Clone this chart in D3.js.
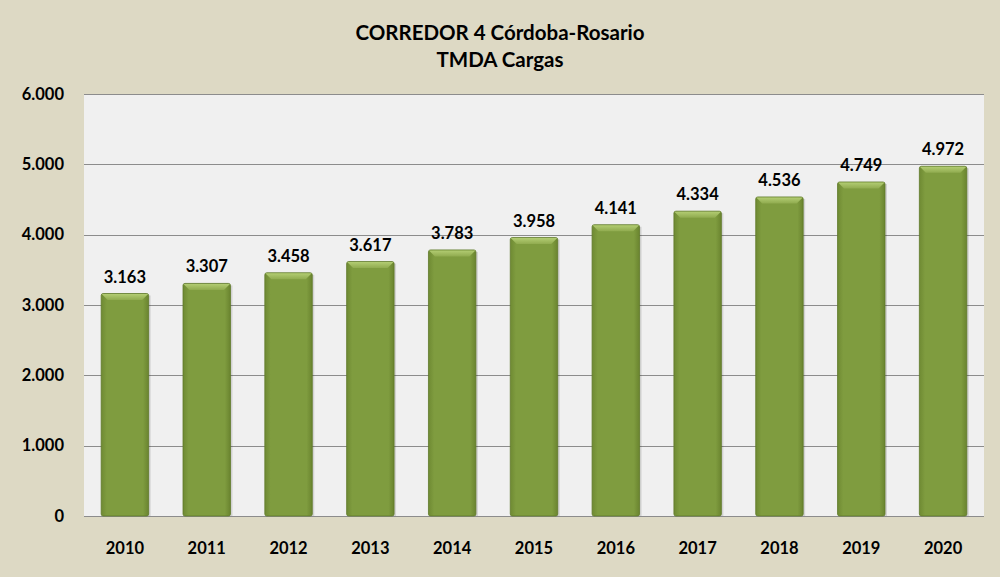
<!DOCTYPE html>
<html>
<head>
<meta charset="utf-8">
<script src="https://cdn.jsdelivr.net/npm/d3@7"></script>
<style>
  body { margin: 0; background: #ddd9c4; }
  text { font-family: Lato, "Open Sans", sans-serif; font-weight: bold; fill: #000; }
</style>
</head>
<body>
<div id="chart"></div>
<script>
// data
var years = ["2010", "2011", "2012", "2013", "2014", "2015", "2016", "2017", "2018", "2019", "2020"]
var tmda = [3163, 3307, 3458, 3617, 3783, 3958, 4141, 4334, 4536, 4749, 4972]
var yTicks = [0, 1000, 2000, 3000, 4000, 5000, 6000]
var titleLines = ["CORREDOR 4 Córdoba-Rosario", "TMDA Cargas"]

var width = 1000
var height = 577
var margin = {top: 94, right: 16, bottom: 61, left: 84}

var locale = d3.formatLocale({decimal: ",", thousands: ".", grouping: [3], currency: ["", ""]})
var fmt = locale.format(",d")

var svg = d3.select("#chart")
  .append("svg")
    .attr("width", width)
    .attr("height", height)

svg.append("rect")
    .attr("width", width)
    .attr("height", height)
    .attr("fill", "#ddd9c4")

var defs = svg.append("defs")
var grad = defs.append("linearGradient")
    .attr("id", "barGrad")
    .attr("x1", "0").attr("x2", "1").attr("y1", "0").attr("y2", "0")
grad.append("stop").attr("offset", "0").attr("stop-color", "#6f8a33")
grad.append("stop").attr("offset", "0.12").attr("stop-color", "#7f9c3f")
grad.append("stop").attr("offset", "0.88").attr("stop-color", "#7f9c3f")
grad.append("stop").attr("offset", "1").attr("stop-color", "#6a842f")

var topGrad = defs.append("linearGradient")
    .attr("id", "topGrad")
    .attr("x1", "0").attr("x2", "0").attr("y1", "0").attr("y2", "1")
topGrad.append("stop").attr("offset", "0").attr("stop-color", "#b2cc72")
topGrad.append("stop").attr("offset", "1").attr("stop-color", "#90ab4f")

var x = d3.scaleBand()
  .domain(years)
  .range([margin.left, width - margin.right])
  .paddingInner(0.42)
  .paddingOuter(0.21)

var y = d3.scaleLinear()
  .domain([0, 6000])
  .range([height - margin.bottom, margin.top])

// plot area
svg.append("rect")
    .attr("x", margin.left)
    .attr("y", margin.top)
    .attr("width", width - margin.left - margin.right)
    .attr("height", y(0) - margin.top)
    .attr("fill", "#f0f0f0")

// gridlines
svg.selectAll("grid")
  .data(yTicks)
  .enter()
  .append("line")
    .attr("x1", margin.left)
    .attr("x2", width - margin.right)
    .attr("y1", function(d){ return Math.round(y(d)) + 0.5 })
    .attr("y2", function(d){ return Math.round(y(d)) + 0.5 })
    .attr("stroke", "#8c8c8c")
    .attr("stroke-width", 1)

// y labels
svg.selectAll("ylab")
  .data(yTicks)
  .enter()
  .append("text")
    .attr("x", 64)
    .attr("y", function(d){ return y(d) })
    .attr("dy", "0.35em")
    .attr("text-anchor", "end")
    .style("font-size", "16.5px")
    .text(function(d){ return fmt(d) })

// x labels
svg.selectAll("xlab")
  .data(years)
  .enter()
  .append("text")
    .attr("x", function(d){ return x(d) + x.bandwidth() / 2 })
    .attr("y", 548)
    .attr("dy", "0.35em")
    .attr("text-anchor", "middle")
    .style("font-size", "16.5px")
    .text(function(d){ return d })

// bars
var bars = svg.selectAll("bar")
  .data(tmda)
  .enter()
  .append("g")

bars.append("rect")
    .attr("x", function(d, i){ return x(years[i]) + 2 })
    .attr("y", function(d){ return y(d) + 2 })
    .attr("width", x.bandwidth())
    .attr("height", function(d){ return y(0) - y(d) - 2 })
    .attr("fill", "rgba(0,0,0,0.12)")

bars.append("rect")
    .attr("x", function(d, i){ return x(years[i]) })
    .attr("y", function(d){ return y(d) })
    .attr("width", x.bandwidth())
    .attr("height", function(d){ return y(0) - y(d) })
    .attr("rx", 2)
    .attr("fill", "url(#barGrad)")
    .attr("stroke", "#5f7a2a")
    .attr("stroke-width", 0.8)

// top bevel
bars.append("path")
    .attr("d", function(d, i){
      var x0 = x(years[i]) + 0.5, x1 = x0 + x.bandwidth() - 1, t = y(d) + 0.5, b = 6
      return "M" + x0 + "," + t + "L" + x1 + "," + t + "L" + (x1 - b) + "," + (t + b) +
        "L" + (x0 + b) + "," + (t + b) + "Z"
    })
    .attr("fill", "url(#topGrad)")

// value labels
bars.append("text")
    .attr("x", function(d, i){ return x(years[i]) + x.bandwidth() / 2 })
    .attr("y", function(d){ return y(d) - 11 })
    .attr("text-anchor", "middle")
    .style("font-size", "16.5px")
    .text(function(d){ return fmt(d) })

// title
svg.selectAll("title")
  .data(titleLines)
  .enter()
  .append("text")
    .attr("x", 500)
    .attr("y", function(d, i){ return 33 + i * 26.5 })
    .attr("dy", "0.35em")
    .attr("text-anchor", "middle")
    .style("font-size", "20.5px")
    .text(function(d){ return d })
</script>
</body>
</html>
